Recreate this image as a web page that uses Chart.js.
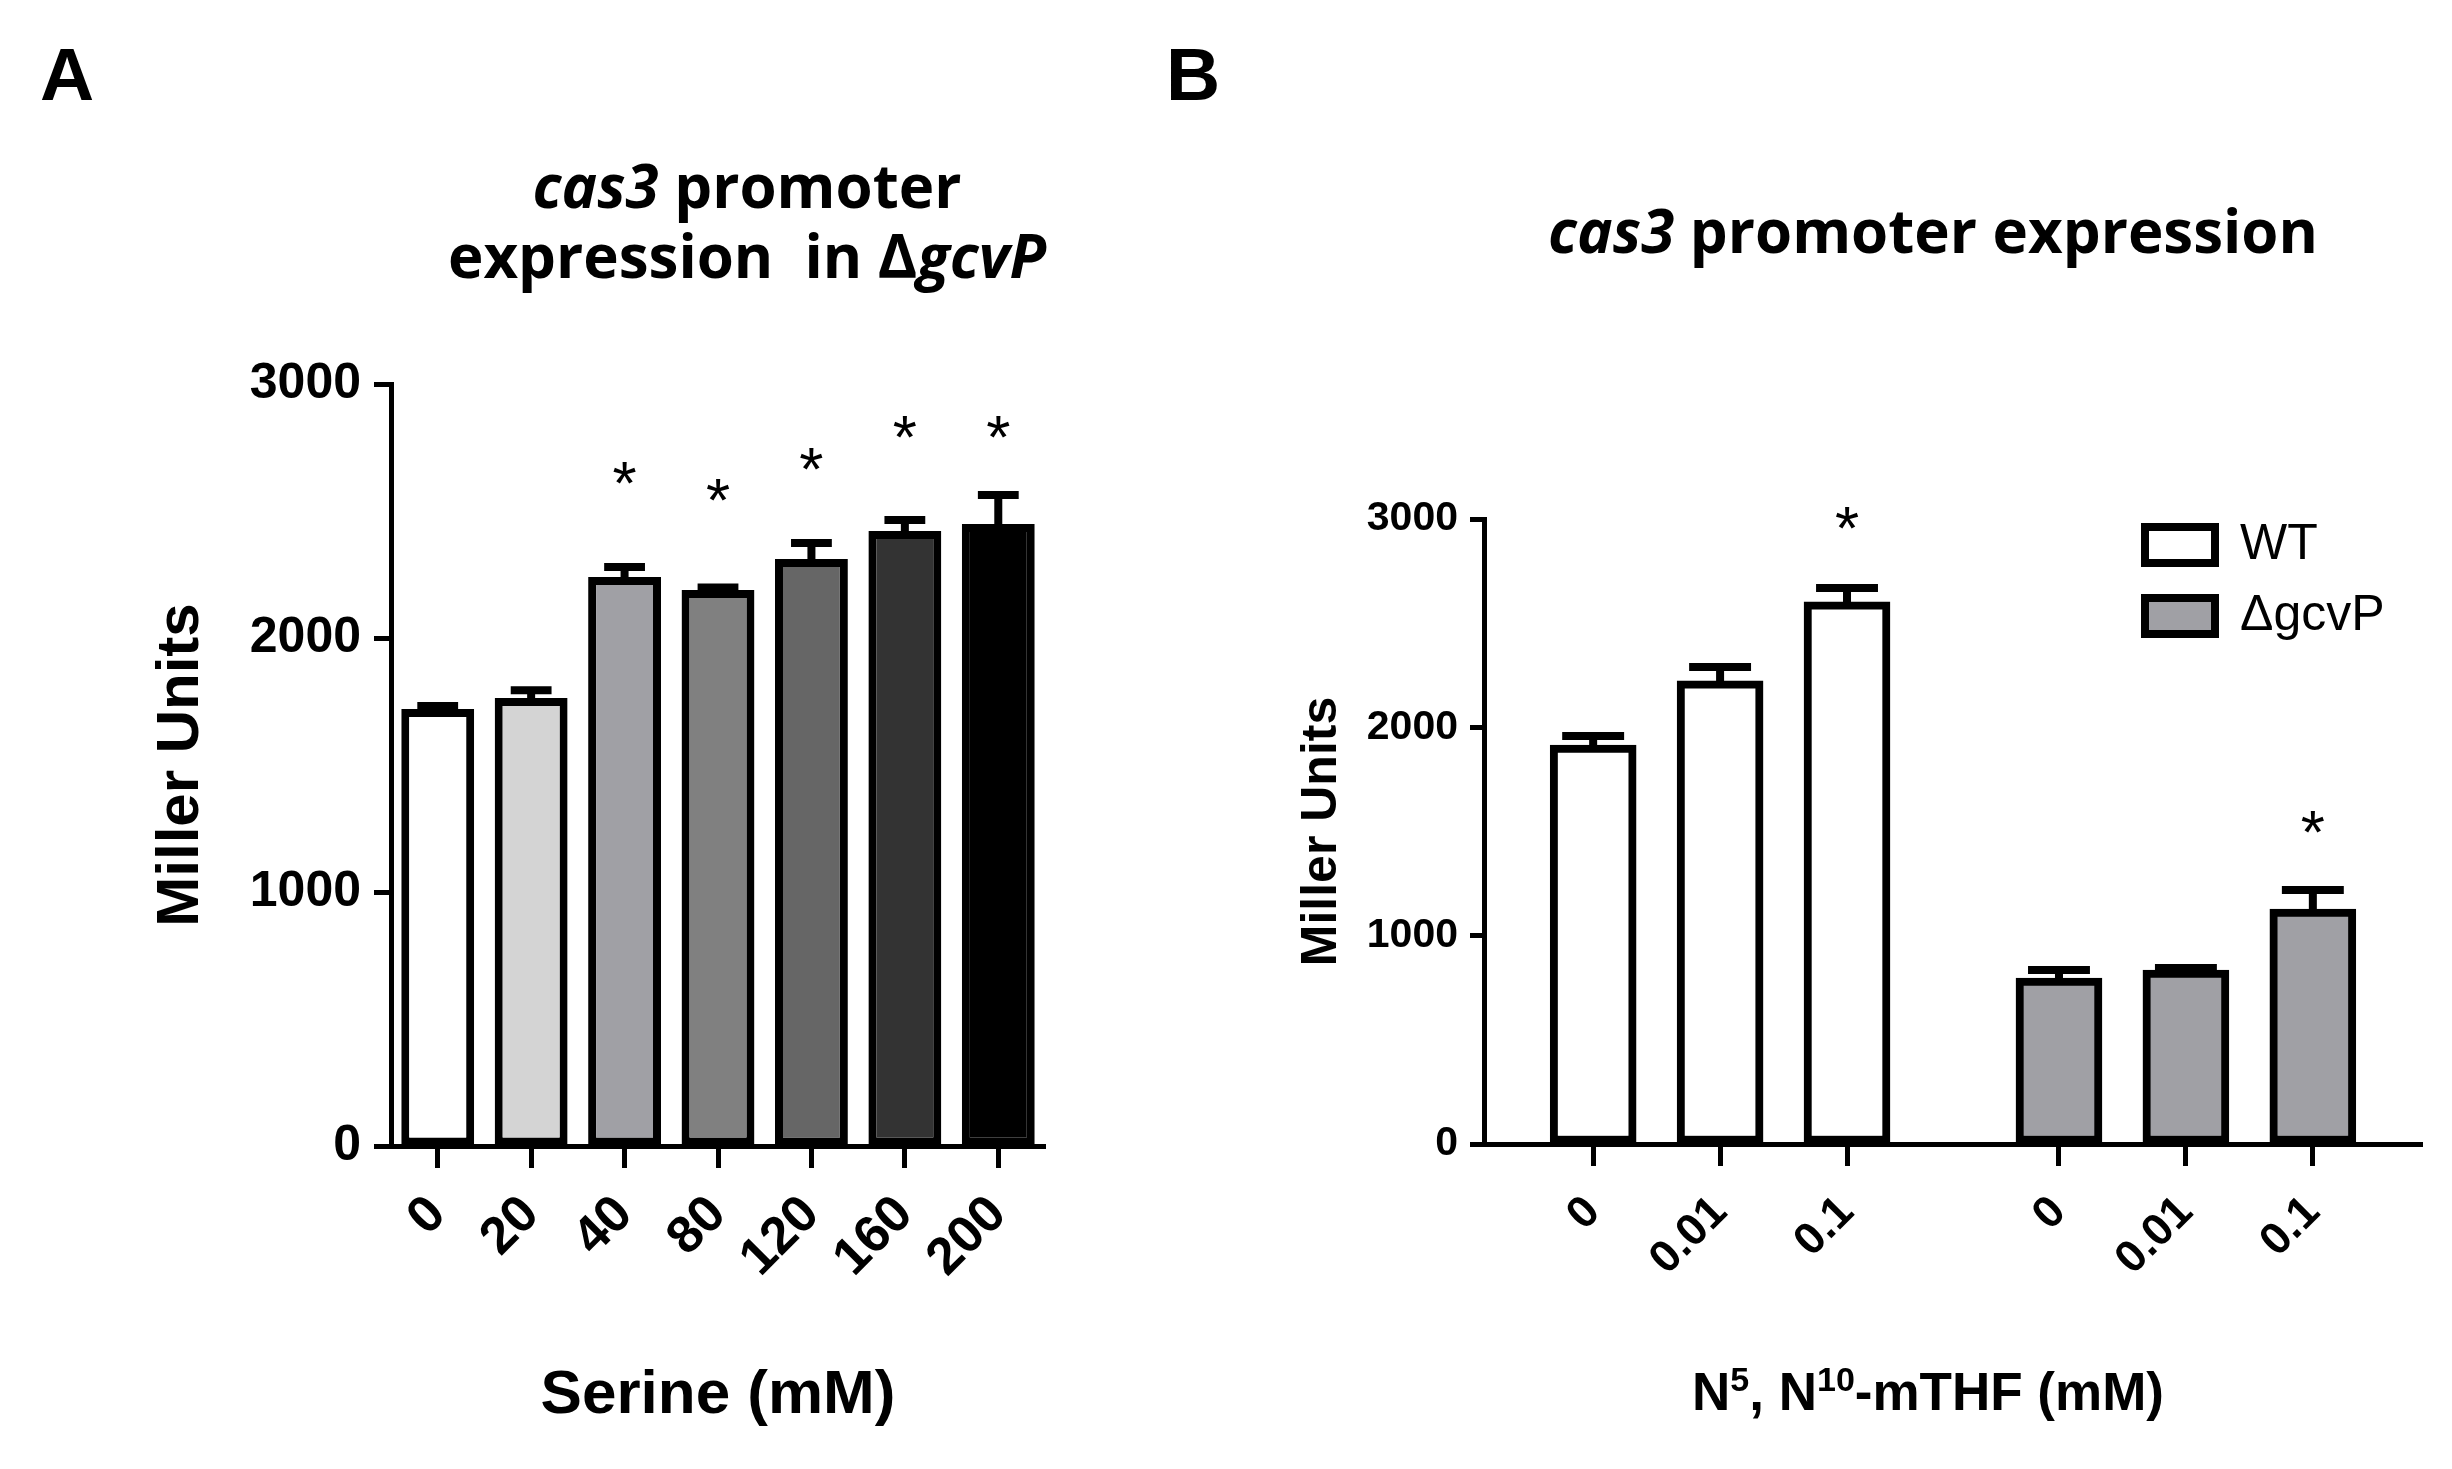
<!DOCTYPE html>
<html>
<head>
<meta charset="utf-8">
<script src="https://cdn.jsdelivr.net/npm/chart.js@4.4.1/dist/chart.umd.min.js"></script>
<style>
  html, body { margin: 0; padding: 0; background: #fff; }
  #page { position: relative; width: 2452px; height: 1469px; overflow: hidden; }
  canvas { position: absolute; top: 0; }
  #chartA { left: 0; }
  #chartB { left: 1226px; }
  .tag { position: absolute; font: bold 75px 'Liberation Sans', Arial, sans-serif; line-height: 75px; }
  .ttl { position: absolute; font-family: 'Open Sans', 'Noto Sans', sans-serif; font-weight: bold;
         font-size: 60px; line-height: 70px; text-align: center; width: 1000px; color: #000; }
  .xt { position: absolute; font: bold 53px 'Liberation Sans', Arial, sans-serif; line-height: 60px;
        text-align: center; width: 800px; white-space: nowrap; }
  .xt sup { font-size: 34px; line-height: 0; vertical-align: 0; position: relative; top: -19px; }
</style>
</head>
<body>
<div id="page">
  <canvas id="chartA" width="1226" height="1469"></canvas>
  <canvas id="chartB" width="1226" height="1469"></canvas>
  <div class="tag" style="left:40px;top:37px">A</div>
  <div class="tag" style="left:1166px;top:37px">B</div>
  <div class="ttl" style="left:247px;top:150px"><i>cas3</i> promoter<br>expression&nbsp; in Δ<i>gcvP</i></div>
  <div class="ttl" style="left:1433px;top:195px"><i>cas3</i> promoter expression</div>
  <div class="xt" style="left:1528px;top:1362px">N<sup>5</sup>, N<sup>10</sup>-mTHF (mM)</div>
</div>
<script>
// panel A: serine series (Miller units)
const serineLabels = ['0', '20', '40', '80', '120', '160', '200'];
const serineMeans = [1720, 1764, 2240, 2189, 2311, 2421, 2449];
const serineErr = [12, 30, 40, 10, 63, 44, 114];
const serineStars = [null, null, 2622, 2555, 2677, 2803, 2803];
const serineFill = ['#ffffff', '#d4d4d4', '#a0a0a5', '#808080', '#666666', '#333333', '#000000'];

// panel B: N5,N10-mTHF doses, WT vs gcvP
const mthfDoses = ['0', '0.01', '0.1'];
const wtMeans = [1915, 2223, 2602];
const wtErr = [43, 67, 67];
const wtStars = [null, null, 2971];
const gcvMeans = [797, 835, 1128];
const gcvErr = [38, 10, 91];
const gcvStars = [null, null, 1512];

const FONT = "'Liberation Sans', Arial, sans-serif";
Chart.defaults.font.family = FONT;
Chart.defaults.color = '#000';

// error bars (up only) + significance stars
const errorBars = {
  id: 'errorBars',
  afterDatasetsDraw(chart, args, opts) {
    const ctx = chart.ctx;
    const y = chart.scales.y;
    ctx.save();
    chart.data.datasets.forEach((ds, di) => {
      const meta = chart.getDatasetMeta(di);
      meta.data.forEach((bar, i) => {
        const v = meta.controller.getParsed(i).y;
        const top = y.getPixelForValue(v + ds.errors[i]);
        const half = bar.width * opts.cap / 2;
        ctx.strokeStyle = '#000';
        ctx.lineWidth = opts.width;
        ctx.beginPath();
        ctx.moveTo(bar.x, bar.y);
        ctx.lineTo(bar.x, top);
        ctx.moveTo(bar.x - half, top);
        ctx.lineTo(bar.x + half, top);
        ctx.stroke();
        if (ds.stars[i] != null) {
          ctx.fillStyle = '#000';
          ctx.font = opts.starSize + 'px ' + FONT;
          ctx.textAlign = 'center';
          ctx.textBaseline = 'alphabetic';
          ctx.fillText('*', bar.x, y.getPixelForValue(ds.stars[i]) + opts.starSize * 0.38);
        }
      });
    });
    ctx.restore();
  }
};

// put legend at a fixed spot inside the plot area
const legendSpot = {
  id: 'legendSpot',
  afterLayout(chart, args, opts) {
    const lg = chart.legend;
    if (lg && opts.left != null) {
      lg.left = opts.left;
      lg.top = opts.top;
      lg.right = opts.left + 400;
      lg.bottom = opts.top + 400;
    }
  }
};

const axisGrid = (len) => ({ display: true, drawOnChartArea: false, drawTicks: true, offset: false,
  tickLength: len, tickWidth: 5, tickColor: '#000' });
const axisBorder = { display: true, width: 5, color: '#000' };
const plain = (v) => String(v);

new Chart(document.getElementById('chartA'), {
  type: 'bar',
  plugins: [errorBars],
  data: {
    labels: serineLabels,
    datasets: [{
      data: serineMeans,
      errors: serineErr,
      stars: serineStars,
      backgroundColor: serineFill,
      borderColor: '#000',
      borderWidth: 8,
      borderSkipped: false,
      categoryPercentage: 1,
      barPercentage: 0.78
    }]
  },
  options: {
    responsive: false,
    animation: false,
    devicePixelRatio: 1,
    layout: { padding: { top: 384, right: 181, left: 0, bottom: 0 } },
    plugins: {
      legend: { display: false },
      tooltip: { enabled: false },
      errorBars: { cap: 0.56, width: 8, starSize: 62 }
    },
    scales: {
      x: {
        grid: axisGrid(22),
        border: axisBorder,
        afterFit: (s) => { s.height = 323; },
        ticks: { autoSkip: false, minRotation: 45, maxRotation: 45, padding: 16,
                 font: { size: 52, weight: 'bold' } },
        title: { display: true, text: 'Serine (mM)', font: { size: 62, weight: 'bold' },
                 padding: { top: 0, bottom: 36 } }
      },
      y: {
        min: 0, max: 3000,
        grid: axisGrid(17),
        border: axisBorder,
        afterFit: (s) => { s.width = 391; },
        ticks: { stepSize: 1000, padding: 13, callback: plain, font: { size: 50, weight: 'bold' } },
        title: { display: true, text: 'Miller Units', font: { size: 60, weight: 'bold' },
                 padding: { top: 145, bottom: 0 } }
      }
    }
  }
});

// panel B uses a linear x so the two groups can sit apart
const groupGap = 0.67;
const wtX = mthfDoses.map((d, i) => i);
const gcvX = mthfDoses.map((d, i) => mthfDoses.length + groupGap + i);
const tickPos = wtX.concat(gcvX);
const tickText = mthfDoses.concat(mthfDoses);

new Chart(document.getElementById('chartB'), {
  type: 'bar',
  plugins: [errorBars, legendSpot],
  data: {
    datasets: [{
      label: 'WT',
      data: wtMeans.map((v, i) => ({ x: wtX[i], y: v })),
      errors: wtErr,
      stars: wtStars,
      backgroundColor: '#ffffff',
      borderColor: '#000',
      borderWidth: 8,
      borderSkipped: false,
      grouped: false,
      barThickness: 86
    }, {
      label: 'ΔgcvP',
      data: gcvMeans.map((v, i) => ({ x: gcvX[i], y: v })),
      errors: gcvErr,
      stars: gcvStars,
      backgroundColor: '#a0a0a5',
      borderColor: '#000',
      borderWidth: 8,
      borderSkipped: false,
      grouped: false,
      barThickness: 86
    }]
  },
  options: {
    responsive: false,
    animation: false,
    devicePixelRatio: 1,
    layout: { padding: { top: 519, right: 30, left: 0, bottom: 0 } },
    plugins: {
      legend: {
        position: 'chartArea',
        align: 'start',
        labels: { boxWidth: 70, boxHeight: 36, padding: 21, color: '#000',
                  font: { size: 50, weight: 'normal' } }
      },
      legendSpot: { left: 898, top: 499 },
      tooltip: { enabled: false },
      errorBars: { cap: 0.72, width: 8, starSize: 62 }
    },
    scales: {
      x: {
        type: 'linear',
        offset: false,
        min: -0.86,
        max: tickPos[tickPos.length - 1] + 0.86,
        grid: axisGrid(22),
        border: axisBorder,
        afterFit: (s) => { s.height = 325; },
        afterBuildTicks: (s) => { s.ticks = tickPos.map(v => ({ value: v })); },
        ticks: { autoSkip: false, minRotation: 45, maxRotation: 45, padding: 20,
                 callback: (v, i) => tickText[i],
                 font: { size: 45, weight: 'bold' } }
      },
      y: {
        min: 0, max: 3000,
        grid: axisGrid(14),
        border: axisBorder,
        afterFit: (s) => { s.width = 258; },
        ticks: { stepSize: 1000, padding: 12, callback: plain, font: { size: 41, weight: 'bold' } },
        title: { display: true, text: 'Miller Units', font: { size: 50, weight: 'bold' },
                 padding: { top: 66, bottom: 0 } }
      }
    }
  }
});
</script>
</body>
</html>
